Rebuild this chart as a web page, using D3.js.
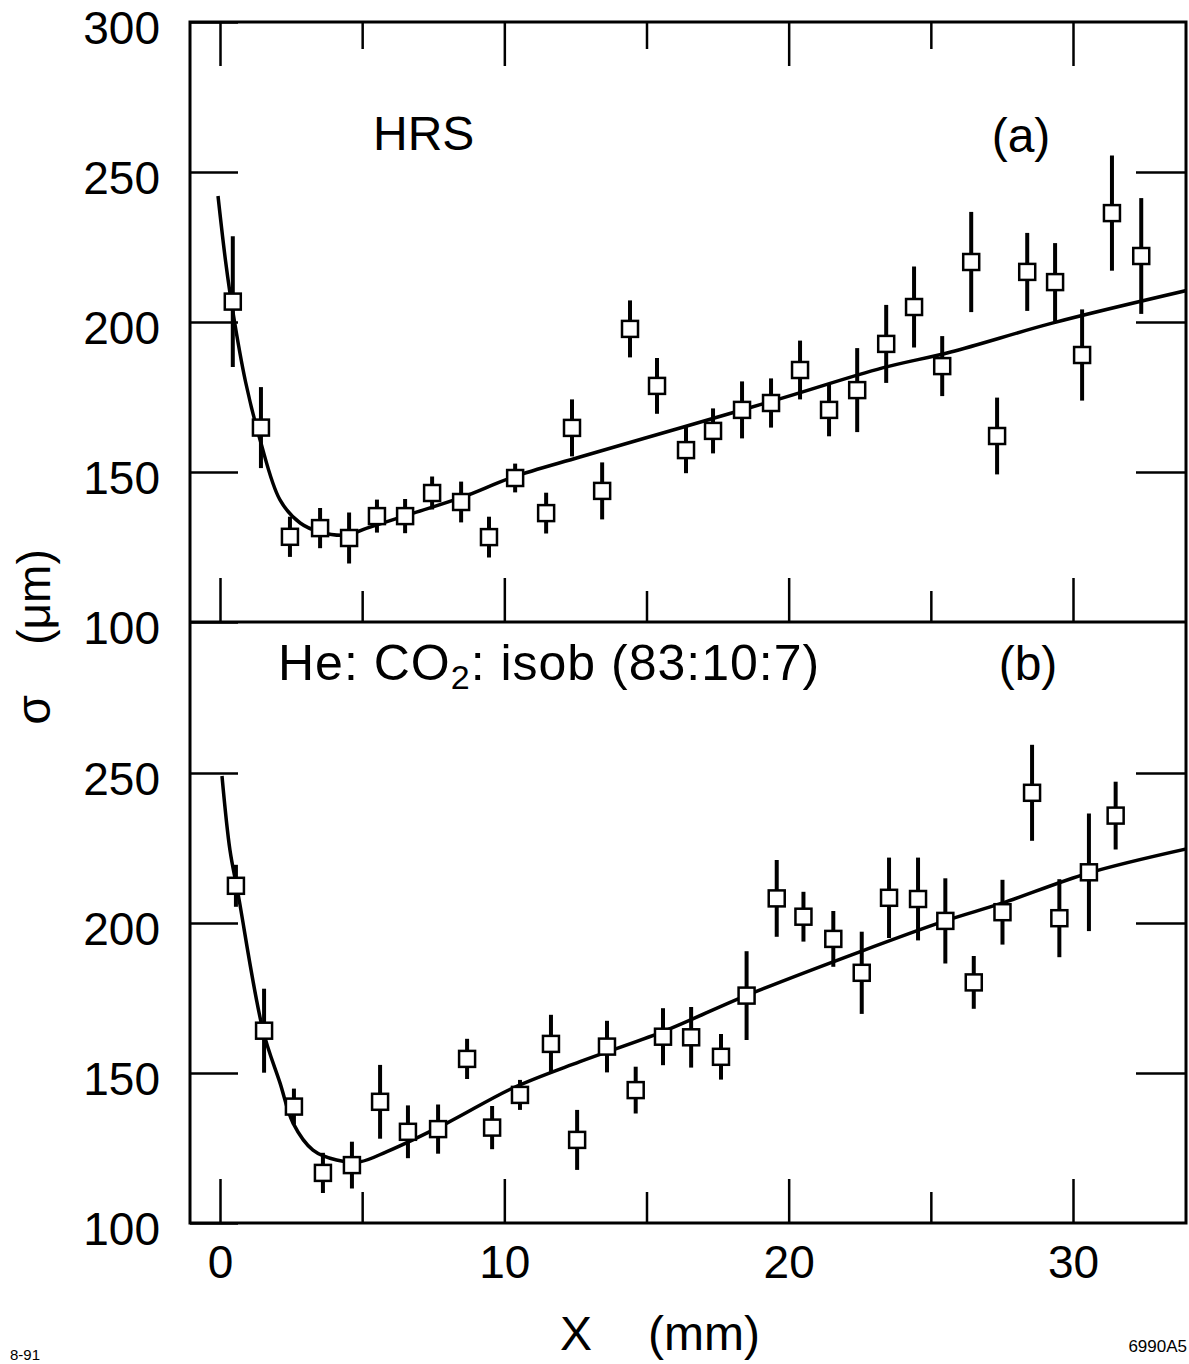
<!DOCTYPE html>
<html>
<head>
<meta charset="utf-8">
<script src="https://cdn.jsdelivr.net/npm/d3@7"></script>
<style>
body { margin: 0; background: #fff; }
text { font-family: "Liberation Sans", Arial, Helvetica, sans-serif; fill: #000; }
</style>
</head>
<body>
<div id="chart"></div>
<script>
// panel (a) HRS : drift distance (mm), resolution (um), error
var xA = [0.45, 1.44, 2.46, 3.52, 4.54, 5.52, 6.51, 7.46, 8.48, 9.46, 10.38, 11.47, 12.38, 13.44, 14.42, 15.37, 16.39,
          17.34, 18.36, 19.38, 20.4, 21.42, 22.41, 23.43, 24.41, 25.4, 26.42, 27.33, 28.39, 29.37, 30.32, 31.37, 32.4]
var sigmaA = [206.8, 164.8, 128.4, 131.3, 128, 135.3, 135.3, 143, 140, 128.3, 148, 136.3, 164.7, 143.7, 197.7, 178.7, 157.3,
              163.7, 170.7, 173, 184, 170.7, 177.3, 192.7, 205, 185.3, 220, 162, 216.7, 213.3, 189, 236.3, 222]
var errA = [21.8, 13.5, 6.7, 6.7, 8.5, 5.5, 5.7, 5.5, 6.8, 6.8, 4.8, 6.8, 9.5, 9.5, 9.5, 9.3, 7.7,
            7.5, 9.5, 8.2, 9.8, 8.8, 14, 13, 13.5, 10, 16.7, 12.8, 13, 13, 15.2, 19.2, 19.3]
var fitXA = [-0.07, 0.2, 0.46, 0.9, 1.41, 2.11, 2.82, 3.52, 4.47, 5.17, 6.8, 8.55, 10.3, 12.66, 16.3, 19.8, 23.3, 25.7, 29.3, 34]
var fitA = [242, 220, 203, 180, 160.7, 140.7, 133, 130, 129, 131.3, 136.3, 141.7, 148.3, 155, 165, 174.7, 184.7, 190, 199.7, 210.5]

// panel (b) He:CO2:isobutane
var xB = [0.56, 1.55, 2.6, 3.62, 4.64, 5.63, 6.61, 7.67, 8.69, 9.57, 10.55, 11.64, 12.56, 13.61, 14.62, 15.58,
          16.57, 17.62, 18.52, 19.58, 20.52, 21.57, 22.57, 23.53, 24.55, 25.51, 26.51, 27.52, 28.56, 29.52, 30.56, 31.5]
var sigmaB = [212.4, 164.1, 138.8, 116.7, 119.3, 140.4, 130.4, 131.3, 154.7, 131.8, 142.7, 159.7, 127.7, 158.8, 144.3, 162.1,
              161.9, 155.4, 175.8, 208.2, 202.1, 194.7, 183.4, 208.4, 208, 200.7, 180.2, 203.6, 243.4, 201.6, 216.9, 235.8]
var errB = [7, 14, 6, 6.7, 7.8, 12.3, 8.8, 8.2, 6.7, 7.2, 5, 9.7, 10, 8.6, 7.8, 9.5,
            10.1, 7.6, 14.8, 12.8, 8.3, 9.3, 13.7, 13.4, 13.8, 14.2, 8.8, 10.8, 16, 13, 19.6, 11.3]
var fitXB = [0.07, 0.35, 0.63, 1.51, 2.11, 2.57, 3.27, 4.1, 4.92, 5.87, 7.98, 10.3, 12.66, 15.58, 18.5, 22.5, 25.5, 27.5, 30.53, 34]
var fitB = [249, 224.3, 210, 164.3, 146.7, 133.3, 124.3, 121, 120.4, 123.8, 133.3, 145, 153.8, 163.8, 175.8, 190.4, 200.7, 206.6, 216.6, 224.7]

var xMajor = [0, 10, 20, 30]
var xMinor = [5, 15, 25]
var yTicksA = [100, 150, 200, 250, 300]
var yTicksB = [100, 150, 200, 250]

var svgWidth = 1189
var svgHeight = 1364
var frame = { left: 190, right: 1186, top: 22, mid: 622, bottom: 1223 }

var svg = d3.select("#chart").append("svg").attr("width", svgWidth).attr("height", svgHeight)

var xScale = d3.scaleLinear().domain([0, 30]).range([220, 1073])
var yScaleA = d3.scaleLinear().domain([100, 300]).range([frame.mid, frame.top])
var yScaleB = d3.scaleLinear().domain([100, 300]).range([frame.bottom, frame.mid + 1])

function styleAxis(g) {
    g.select(".domain").remove()
    g.selectAll("line").attr("stroke", "#000").attr("stroke-width", 2.5)
    g.attr("font-family", '"Liberation Sans", Arial, sans-serif').attr("font-size", 46)
    g.selectAll("text").attr("fill", "#000")
}

// x ticks: top edge, divider (upward), bottom edge
svg.append("g").attr("transform", `translate(0, ${frame.top})`)
    .call(d3.axisTop(xScale).tickValues(xMajor).tickSize(-44).tickFormat("")).call(styleAxis)
svg.append("g").attr("transform", `translate(0, ${frame.top})`)
    .call(d3.axisTop(xScale).tickValues(xMinor).tickSize(-27).tickFormat("")).call(styleAxis)
svg.append("g").attr("transform", `translate(0, ${frame.mid})`)
    .call(d3.axisBottom(xScale).tickValues(xMajor).tickSize(-44).tickFormat("")).call(styleAxis)
svg.append("g").attr("transform", `translate(0, ${frame.mid})`)
    .call(d3.axisBottom(xScale).tickValues(xMinor).tickSize(-31).tickFormat("")).call(styleAxis)
svg.append("g").attr("transform", `translate(0, ${frame.bottom})`)
    .call(d3.axisBottom(xScale).tickValues(xMajor).tickSize(-44).tickPadding(22)).call(styleAxis)
svg.append("g").attr("transform", `translate(0, ${frame.bottom})`)
    .call(d3.axisBottom(xScale).tickValues(xMinor).tickSize(-31).tickFormat("")).call(styleAxis)

// y ticks left (labelled) and right
svg.append("g").attr("transform", `translate(${frame.left}, 0)`)
    .call(d3.axisLeft(yScaleA).tickValues(yTicksA).tickSize(-48).tickPadding(30)).call(styleAxis)
    .selectAll("text").attr("dy", "0.46em")
svg.append("g").attr("transform", `translate(${frame.left}, 0)`)
    .call(d3.axisLeft(yScaleB).tickValues(yTicksB).tickSize(-48).tickPadding(30)).call(styleAxis)
    .selectAll("text").attr("dy", "0.46em")
svg.append("g").attr("transform", `translate(${frame.right}, 0)`)
    .call(d3.axisRight(yScaleA).tickValues([150, 200, 250]).tickSize(-50).tickFormat("")).call(styleAxis)
svg.append("g").attr("transform", `translate(${frame.right}, 0)`)
    .call(d3.axisRight(yScaleB).tickValues([150, 200, 250]).tickSize(-50).tickFormat("")).call(styleAxis)

// frame
svg.append("rect")
    .attr("x", frame.left).attr("y", frame.top)
    .attr("width", frame.right - frame.left).attr("height", frame.bottom - frame.top)
    .attr("fill", "none").attr("stroke", "#000").attr("stroke-width", 3)
svg.append("line")
    .attr("x1", frame.left).attr("x2", frame.right).attr("y1", frame.mid).attr("y2", frame.mid)
    .attr("stroke", "#000").attr("stroke-width", 3)

// clip regions
var defs = svg.append("defs")
defs.append("clipPath").attr("id", "clipA").append("rect")
    .attr("x", frame.left).attr("y", frame.top).attr("width", frame.right - frame.left).attr("height", frame.mid - frame.top)
defs.append("clipPath").attr("id", "clipB").append("rect")
    .attr("x", frame.left).attr("y", frame.mid).attr("width", frame.right - frame.left).attr("height", frame.bottom - frame.mid)

function drawPanel(xs, ys, errs, fitX, fitY, yScale, clipId) {
    var g = svg.append("g").attr("clip-path", `url(#${clipId})`)
    var pts = xs.map((x, i) => ({ x: x, y: ys[i], e: errs[i] }))
    var fit = fitX.map((x, i) => [x, fitY[i]])

    var line = d3.line()
        .x(d => xScale(d[0]))
        .y(d => yScale(d[1]))
        .curve(d3.curveCatmullRom.alpha(0.5))

    g.append("path").datum(fit)
        .attr("d", line)
        .attr("fill", "none").attr("stroke", "#000").attr("stroke-width", 3.5)

    g.selectAll(null).data(pts).enter().append("line")
        .attr("x1", d => xScale(d.x)).attr("x2", d => xScale(d.x))
        .attr("y1", d => yScale(d.y - d.e)).attr("y2", d => yScale(d.y + d.e))
        .attr("stroke", "#000").attr("stroke-width", 4)

    g.selectAll(null).data(pts).enter().append("rect")
        .attr("x", d => xScale(d.x) - 8).attr("y", d => yScale(d.y) - 8)
        .attr("width", 16).attr("height", 16)
        .attr("fill", "#fff").attr("stroke", "#000").attr("stroke-width", 2.5)
}

drawPanel(xA, sigmaA, errA, fitXA, fitA, yScaleA, "clipA")
drawPanel(xB, sigmaB, errB, fitXB, fitB, yScaleB, "clipB")

// panel labels
svg.append("text").attr("x", 373).attr("y", 150).attr("font-size", 48).text("HRS")
svg.append("text").attr("x", 1021).attr("y", 152).attr("font-size", 48).attr("text-anchor", "middle").text("(a)")
svg.append("text").attr("x", 1028).attr("y", 680).attr("font-size", 48).attr("text-anchor", "middle").text("(b)")

var gas = svg.append("text").attr("x", 278).attr("y", 680).attr("font-size", 50).attr("letter-spacing", 1)
gas.append("tspan").text("He: CO")
gas.append("tspan").attr("font-size", 34).attr("dy", 9).text("2")
gas.append("tspan").attr("dy", -9).text(": isob (83:10:7)")

// axis titles
svg.append("text").attr("x", 560).attr("y", 1350).attr("font-size", 48).text("X")
svg.append("text").attr("x", 648).attr("y", 1350).attr("font-size", 48).text("(mm)")

svg.append("text").attr("transform", "translate(50, 710) rotate(-90)")
    .attr("text-anchor", "middle").attr("font-size", 48).text("σ")
svg.append("text").attr("transform", "translate(50, 597) rotate(-90)")
    .attr("text-anchor", "middle").attr("font-size", 46).text("(μm)")

// figure codes
svg.append("text").attr("x", 10).attr("y", 1360).attr("font-size", 15).text("8-91")
svg.append("text").attr("x", 1187).attr("y", 1352).attr("font-size", 17).attr("text-anchor", "end").text("6990A5")
</script>
</body>
</html>
